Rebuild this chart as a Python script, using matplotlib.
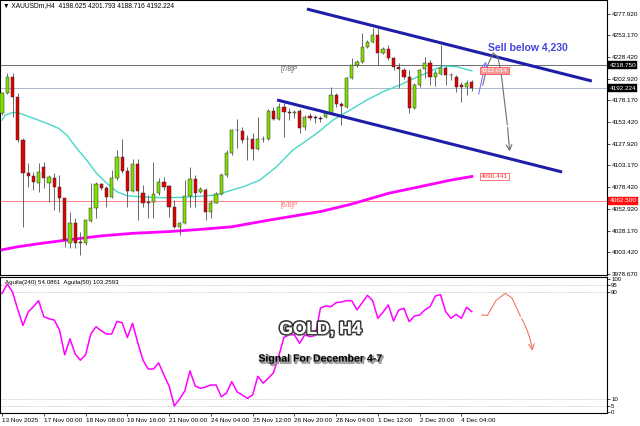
import numpy as np
import matplotlib
matplotlib.use("Agg")
import matplotlib.pyplot as plt
import matplotlib.transforms as mtransforms
import matplotlib.patheffects as pe

plt.rcParams['font.family'] = ['Liberation Sans', 'DejaVu Sans']

# H4 candles, 13 Nov 16:00 .. 4 Dec 12:00
opens = [4163.1, 4186.1, 4204.5, 4181.5, 4132.4, 4094.0, 4091.0, 4083.3, 4101.7, 4082.5,
         4088.3, 4078.7, 4065.2, 4013.4, 4036.4, 4015.3, 4013.4, 4039.5, 4053.7, 4081.7,
         4076.7, 4067.1, 4088.3, 4113.2, 4097.1, 4074.1, 4104.8, 4071.8, 4061.4, 4061.4,
         4071.0, 4084.4, 4079.4, 4055.6, 4032.6, 4036.4, 4067.9, 4087.1, 4072.9, 4074.8,
         4049.9, 4060.2, 4070.2, 4092.1, 4117.8, 4143.9, 4143.1, 4133.9, 4133.2, 4121.6,
         4133.5, 4133.2, 4166.2, 4156.2, 4170.8, 4165.0, 4163.1, 4166.0, 4146.9, 4160.0,
         4158.0, 4157.7, 4159.3, 4163.1, 4184.2, 4173.8, 4170.0, 4203.4, 4218.7, 4222.6,
         4239.1, 4245.6, 4253.3, 4232.2, 4236.8, 4226.4, 4216.8, 4213.0, 4205.3, 4168.9,
         4195.7, 4213.8, 4220.7, 4205.3, 4208.4, 4214.9, 4207.6, 4205.3, 4195.7, 4193.8,
         4198.625]
highs = [4188.0, 4209.9, 4209.2, 4186.1, 4134.3, 4105.5, 4095.9, 4105.5, 4107.4, 4092.1,
         4094.0, 4092.1, 4066.0, 4049.9, 4042.2, 4026.8, 4041.0, 4082.5, 4084.4, 4083.3,
         4079.4, 4097.8, 4120.9, 4133.2, 4101.7, 4110.1, 4110.1, 4080.6, 4069.1, 4107.4,
         4089.0, 4089.4, 4080.6, 4063.3, 4038.4, 4086.3, 4101.7, 4092.1, 4078.7, 4076.7,
         4063.3, 4072.9, 4094.0, 4120.9, 4144.7, 4156.2, 4147.7, 4138.1, 4140.1, 4158.5,
         4137.0, 4167.7, 4170.8, 4174.6, 4174.6, 4168.9, 4167.0, 4168.0, 4161.2, 4163.1,
         4161.2, 4160.0, 4164.0, 4193.8, 4186.1, 4176.5, 4205.3, 4226.4, 4224.0, 4256.0,
         4247.5, 4261.0, 4261.0, 4239.9, 4241.8, 4227.6, 4221.4, 4215.0, 4213.0, 4197.6,
         4213.8, 4228.3, 4224.5, 4213.0, 4241.8, 4217.6, 4209.9, 4207.2, 4199.6, 4201.5,
         4201.793]
lows = [4161.2, 4185.0, 4159.3, 4130.5, 4032.6, 4078.7, 4074.8, 4072.9, 4076.7, 4061.4,
        4051.8, 4049.9, 4009.6, 4007.7, 4007.7, 4000.0, 4012.0, 4038.4, 4042.2, 4074.8,
        4055.6, 4066.0, 4086.3, 4094.0, 4055.6, 4072.9, 4040.3, 4055.6, 4042.2, 4042.2,
        4069.0, 4074.8, 4044.1, 4030.7, 4023.0, 4035.7, 4055.6, 4055.6, 4071.0, 4040.3,
        4042.2, 4059.5, 4069.1, 4089.4, 4115.1, 4122.8, 4128.5, 4109.4, 4109.4, 4120.9,
        4130.5, 4132.4, 4155.4, 4155.4, 4136.2, 4155.4, 4158.0, 4141.0, 4143.9, 4155.4,
        4151.6, 4153.5, 4158.0, 4162.3, 4170.8, 4149.7, 4168.9, 4202.2, 4216.8, 4221.4,
        4237.9, 4243.7, 4218.7, 4231.4, 4224.5, 4213.0, 4191.9, 4203.0, 4163.1, 4167.7,
        4193.8, 4203.4, 4195.7, 4194.6, 4207.2, 4195.7, 4201.5, 4188.0, 4176.5, 4184.2,
        4188.716]
closes = [4186.1, 4204.5, 4181.5, 4132.4, 4094.0, 4091.0, 4084.4, 4095.9, 4088.3, 4089.4,
          4078.7, 4065.2, 4017.2, 4036.4, 4013.4, 4013.4, 4040.3, 4053.7, 4081.7, 4076.7,
          4067.1, 4088.3, 4113.2, 4097.1, 4074.1, 4104.8, 4074.1, 4060.2, 4060.2, 4070.2,
          4084.4, 4078.7, 4055.6, 4032.6, 4036.4, 4067.9, 4087.1, 4071.0, 4075.6, 4049.9,
          4060.2, 4070.2, 4092.1, 4117.8, 4143.9, 4143.5, 4132.4, 4133.2, 4121.6, 4133.2,
          4133.2, 4166.2, 4156.2, 4170.8, 4165.0, 4163.1, 4165.0, 4146.0, 4159.3, 4157.3,
          4158.1, 4157.0, 4163.1, 4184.2, 4173.8, 4171.5, 4203.4, 4218.7, 4222.6, 4239.1,
          4245.6, 4253.3, 4232.2, 4236.8, 4226.4, 4216.8, 4213.8, 4205.3, 4168.9, 4195.7,
          4213.0, 4220.7, 4205.3, 4209.2, 4214.9, 4207.2, 4206.8, 4193.8, 4193.8, 4198.4,
          4192.224]

# moving averages read at bar positions
ma_fast_idx = [0, 0.6, 2.2, 3.4, 6, 8.6, 10.8, 12.4, 14.3, 16.2, 18.1, 20.1, 22, 23.9, 26.4,
               30.3, 34.7, 41.1, 43, 46.2, 49.4, 52.6, 55.7, 57.1, 60.3, 63.4, 66.7, 69.9,
               73, 76.2, 79.4, 82.6, 84.5, 87.1, 90]
ma_fast_val = [4155.4, 4161.2, 4164.3, 4163.1, 4157.4, 4151.6, 4145.9, 4138.1, 4122.8, 4109.4,
               4094.0, 4082.5, 4072.9, 4068.3, 4067.1, 4066.0, 4066.4, 4069.1, 4072.9, 4078.6,
               4086.3, 4101.7, 4120.9, 4126.6, 4140.1, 4155.4, 4167.0, 4178.5, 4188.0, 4195.7,
               4204.6, 4213.0, 4217.6, 4216.8, 4212.0]
ma_slow_idx = [0, 3, 7, 12, 19, 25, 32, 38, 44, 51, 57, 61, 67, 74, 80, 86, 90]
ma_slow_val = [4006.0, 4009.5, 4013.0, 4017.0, 4022.0, 4025.0, 4027.0, 4029.5, 4032.5, 4040.0,
               4046.0, 4050.0, 4058.7, 4071.0, 4078.6, 4086.3, 4090.4]

# Aguila oscillator, one value per bar
aguila = [89, 96, 90, 77, 65, 75, 79, 83.5, 71.5, 70, 69, 61.6, 43, 55, 43.7, 39, 43, 58.6, 64, 61,
          58.6, 58.6, 68, 67, 56, 66.6, 52, 39, 32.4, 32.4, 37, 28, 19.7, 4.8, 10, 16, 31, 19.7, 18, 19,
          20.5, 20.5, 11.7, 14.5, 23, 15.5, 13, 10.5, 13, 27, 21.8, 25.5, 29.7, 42, 56, 58, 58, 51.7, 58, 56.6,
          57.5, 78, 79.6, 79, 82, 82.5, 83.5, 83.5, 76.6, 82, 87.5, 83.5, 70.3, 75, 80.3, 68.3, 76.6, 77.8, 67.8, 72,
          72.8, 76.6, 79, 87, 88, 75.3, 70.3, 73.3, 70.3, 78.6, 75.3]

date_idx = [0, 8, 16, 24, 32, 40, 48, 56, 64, 72, 80, 88]
date_labels = ["13 Nov 2025", "17 Nov 00:00", "18 Nov 08:00", "19 Nov 16:00", "21 Nov 00:00",
               "24 Nov 04:00", "25 Nov 12:00", "26 Nov 20:00", "28 Nov 04:00", "1 Dec 12:00",
               "2 Dec 20:00", "4 Dec 04:00"]
price_ticks = [4277.920, 4253.170, 4228.420, 4202.920, 4178.170, 4153.420, 4127.920,
               4103.170, 4078.420, 4052.920, 4028.170, 4003.420, 3978.670]

# channel (bar index, price)
upper_x, upper_y = [58.4, 113.0], [4283.2, 4200.3]
lower_x, lower_y = [52.7, 107.3], [4178.5, 4095.6]
pivot78, bid, pivot68 = 4218.750, 4192.224, 4062.500

W, H = 640, 426
fig = plt.figure(figsize=(6.4, 4.26), dpi=100)
ax = fig.add_axes([0, 1 - 275 / H, 607 / W, 275 / H])
ax2 = fig.add_axes([0, 1 - 413 / H, 607 / W, 136 / H])

n = len(opens)
x = np.arange(n)
o, hi, lo, c = map(np.array, (opens, highs, lows, closes))

# lines behind candles
ax.axhline(pivot78, color='#6e6e6e', lw=0.7, zorder=1)
ax.axhline(bid, color='#aab8c8', lw=0.7, zorder=1)
ax.axhline(pivot68, color='#ff8a8a', lw=0.8, zorder=1)
ax.text(53.3, pivot78 - 1.5, '[7/8]P', fontsize=4.8, color='#555555', va='top')
ax.text(53.3, pivot68 - 1.5, '[6/8]P', fontsize=4.8, color='#ff6a6a', va='top')

ax.plot(ma_fast_idx, ma_fast_val, color='#48d8c8', lw=1.0, zorder=2)
ax.plot(ma_slow_idx, ma_slow_val, color='#ff00ff', lw=2.0, zorder=2)

ax.vlines(x, lo, hi, color='#505050', lw=0.6, zorder=3)
up = c >= o
body_h = np.maximum(np.abs(c - o), 0.7)
cols = np.where(up, '#7ee000', '#e00000')
cols = np.where(np.abs(c - o) < 1.0, '#202020', cols)
ax.bar(x, body_h, bottom=np.minimum(o, c), width=0.62, color=cols,
       edgecolor='#303030', linewidth=0.35, zorder=4)

ax.plot(upper_x, upper_y, color='#1e1ea8', lw=2.2, zorder=5, solid_capstyle='butt')
ax.plot(lower_x, lower_y, color='#1e1ea8', lw=2.2, zorder=5, solid_capstyle='butt')

# forecast arrows
ax.annotate('', xy=(92.8, 4226), xytext=(91.2, 4182),
            arrowprops=dict(arrowstyle='->', color='#7a7aff', lw=0.8), zorder=6)
gx = [92.1, 93.0, 94.1, 95.0, 95.7, 96.3, 96.8]
gy = [4195.7, 4218.0, 4232.6, 4228.0, 4205.3, 4175.0, 4150.0]
ax.plot(gx, gy, color='#707070', lw=0.8, zorder=6)
ax.annotate('', xy=(97.3, 4116), xytext=(96.8, 4150),
            arrowprops=dict(arrowstyle='->', color='#707070', lw=0.8), zorder=6)
ax.text(100.8, 4238.5, 'Sell below 4,230', fontsize=7.5, fontweight='bold',
        color='#4444dd', ha='center', va='center')

ax.text(91.8, 4212.0, '4212.014', fontsize=4.6, color='white', va='center', ha='left',
        bbox=dict(boxstyle='square,pad=0.15', fc='#f49a9a', ec='#ff4040', lw=0.5), zorder=7)
ax.text(91.8, 4090.4, '4090.441', fontsize=4.6, color='#ff3030', va='center', ha='left',
        bbox=dict(boxstyle='square,pad=0.15', fc='white', ec='#ff4040', lw=0.5), zorder=7)

ax.set_xlim(-0.4, 115.9)
ax.set_ylim(3977, 4293.6)
ax.yaxis.tick_right()
ax.set_yticks(price_ticks)
ax.set_yticklabels([f"{v:.3f}" for v in price_ticks])
ax.tick_params(axis='y', labelsize=4.6, length=2, width=0.5, pad=1.5)
ax.set_xticks([])
for s in ax.spines.values():
    s.set_linewidth(0.8)

trans = mtransforms.blended_transform_factory(ax.transAxes, ax.transData)
for val, fc in ((pivot78, 'black'), (bid, 'black'), (pivot68, '#ff1010')):
    ax.text(1.004, val, f"{val:.3f}", transform=trans, fontsize=4.6, color='white',
            va='center', ha='left', clip_on=False,
            bbox=dict(boxstyle='square,pad=0.2', fc=fc, ec=fc, lw=0.3))

fig.text(0.004, 1 - 6 / H, '▼ XAUUSDm,H4  4198.625 4201.793 4188.716 4192.224',
         fontsize=4.8, va='center', ha='left', family=['Liberation Sans', 'DejaVu Sans'])

# oscillator panel
for lv in (95, 90, 10, 5):
    ax2.axhline(lv, color='#c0c0c0', lw=0.6, ls=(0, (1.5, 1.5)))
ax2.plot(x, aguila, color='#ff00ff', lw=1.1)
rx = [91.9, 93.0, 94.6, 96.4, 97.7, 99.3]
ry = [72.8, 72.5, 83.5, 89.0, 85.5, 72.0]
ax2.plot(rx, ry, color='#f07860', lw=0.8)
ax2.annotate('', xy=(101.7, 44.0), xytext=(99.3, 72.0),
             arrowprops=dict(arrowstyle='->', color='#f07860', lw=0.8,
                             connectionstyle='arc3,rad=-0.1'))
ax2.text(0.008, 0.975, 'Aguila(240) 54.0861  Aguila(50) 103.2593', transform=ax2.transAxes,
         fontsize=4.4, va='top', ha='left')
ax2.text(0.528, 0.615, 'GOLD, H4', transform=ax2.transAxes, fontsize=12.5, fontweight='bold',
         color='white', ha='center', va='center',
         path_effects=[pe.withStroke(linewidth=2.4, foreground='#2e2e2e'),
                       pe.SimplePatchShadow(offset=(1.5, -1.5), shadow_rgbFace='#909090'),
                       pe.Normal()])
ax2.text(0.527, 0.40, 'Signal For December 4-7', transform=ax2.transAxes, fontsize=7.6,
         fontweight='bold', color='black', ha='center', va='center',
         path_effects=[pe.SimpleLineShadow(offset=(1, -1.2), shadow_color='#8a8a8a', alpha=0.8,
                                           linewidth=1.2),
                       pe.Normal()])

ax2.set_xlim(-0.4, 115.9)
ax2.set_ylim(-0.45, 101.2)
ax2.yaxis.tick_right()
ax2.set_yticks([100, 95, 90, 10, 5, 0])
ax2.set_yticklabels(['100', '95', '90', '10', '5', '0'])
ax2.tick_params(axis='y', labelsize=4.4, length=2, width=0.5, pad=1)
ax2.set_xticks(date_idx)
ax2.set_xticklabels(date_labels, ha='left')
ax2.tick_params(axis='x', labelsize=4.6, length=2, width=0.5, pad=1.5)
for s in ax2.spines.values():
    s.set_linewidth(0.8)

fig.savefig('out.png', dpi=100)
